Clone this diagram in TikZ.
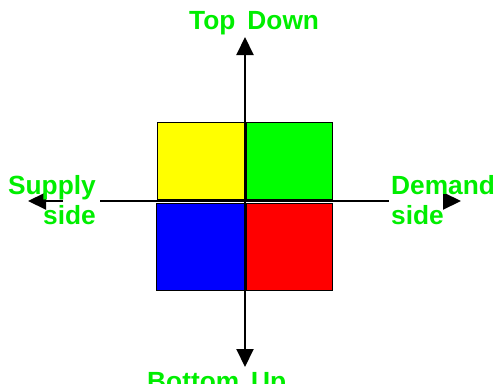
\documentclass[tikz,border=0pt]{standalone}
\usepackage{fontspec}
\setmainfont{Liberation Sans}
\definecolor{qyellow}{RGB}{255,255,0}
\definecolor{qgreen}{RGB}{0,255,0}
\definecolor{qblue}{RGB}{0,0,255}
\definecolor{qred}{RGB}{255,0,0}
\definecolor{lblgreen}{RGB}{0,238,0}
\usetikzlibrary{arrows.meta,positioning}

\begin{document}
\begin{tikzpicture}[
  x=1pt, y=-1pt,
  every node/.style={font=\fontsize{26.3}{30}\selectfont\bfseries,text=lblgreen,inner sep=0pt},
  quad/.style={draw=black,line width=0.9pt,outer sep=0pt},
  axis/.style={line width=2pt,black},
  axtip/.style={-{Triangle[length=18pt,width=17pt]},line width=2pt,black},
]
  \useasboundingbox (0,0) rectangle (497,383);

  % Quadrants
  \node[quad,fill=qyellow,minimum width=88pt,minimum height=77pt] (tl) at (201,160.5) {};
  \node[quad,fill=qgreen,minimum width=86pt,minimum height=77pt] (tr) at (289,160.5) {};
  \node[quad,fill=qblue,minimum width=89pt,minimum height=87pt] (bl) at (200.5,246.5) {};
  \node[quad,fill=qred,minimum width=86pt,minimum height=87pt] (br) at (289,246.5) {};

  % Axes
  \coordinate (o) at (245,201);
  \coordinate (top) at (245,37);
  \coordinate (bot) at (245,367);
  \coordinate (lft) at (28,201);
  \coordinate (lcut) at (100,201);
  \coordinate (lstub) at (63,201);
  \coordinate (rgt) at (461,201);
  \coordinate (rcut) at (389,201);
  \coordinate (rstub) at (443,201);

  \draw[axtip] (o) -- (top);
  \draw[axtip] (o) -- (bot);
  \draw[axis] (o) -- (lcut);
  \draw[axtip] (lstub) -- (lft);
  \draw[axis] (o) -- (rcut);
  \draw[axtip] (rstub) -- (rgt);

  % Labels
  \node[anchor=base west] (topdown) at (189,29) {Top\hspace{12pt}Down};
  \node[anchor=base west] (bottomup) at (147,390) {Bottom\hspace{12pt}Up};
  \node[anchor=east,align=right] (supply) at (96,200.5) {Supply\\side};
  \node[anchor=west,align=left] (demand) at (391,200.5) {Demand\\side};
\end{tikzpicture}
\end{document}
